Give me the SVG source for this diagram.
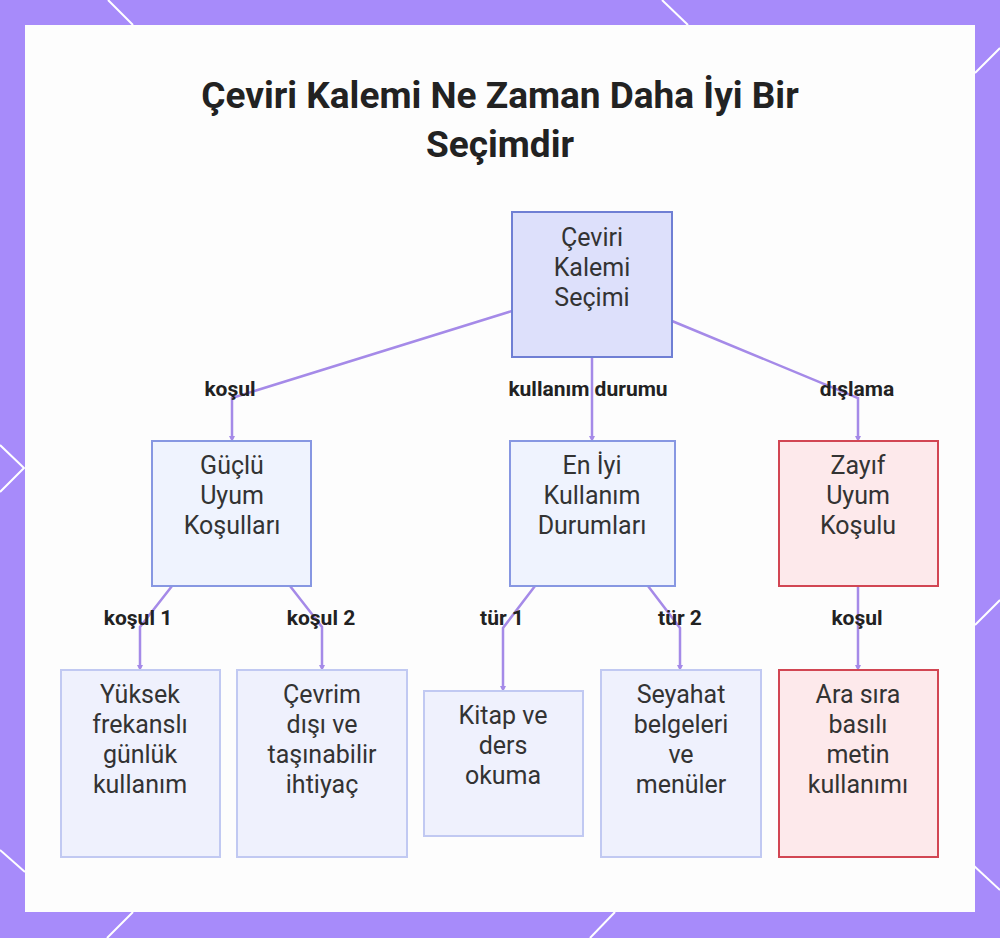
<svg xmlns="http://www.w3.org/2000/svg" width="1000" height="938" viewBox="0 0 1000 938">
<defs>
<style>
.title{font-family:Roboto,"Liberation Sans",sans-serif;font-weight:700;font-size:37px;fill:#222;text-anchor:middle}
.nt{font-family:Roboto,"Liberation Sans",sans-serif;font-size:25px;fill:#333;text-anchor:middle}
.el{font-family:Roboto,"Liberation Sans",sans-serif;font-weight:700;font-size:21px;fill:#222;text-anchor:middle}
.edge{fill:none;stroke:#a58ae8;stroke-width:2.5}
.root{fill:#dde0fb;stroke:#6f7fd4;stroke-width:2}
.mid{fill:#eff3fe;stroke:#8797e2;stroke-width:2}
.leaf{fill:#eff1fd;stroke:#c1c9f2;stroke-width:2}
.red{fill:#fde9eb;stroke:#d24653;stroke-width:2}
.deco{stroke:#fff;stroke-width:2;fill:none}
</style>
<marker id="arr" markerWidth="6" markerHeight="6" refX="3" refY="3" orient="auto" markerUnits="userSpaceOnUse">
<path d="M0,0 L6,3 L0,6 z" fill="#a58ae8"/>
</marker>
</defs>
<rect x="0" y="0" width="1000" height="938" fill="#a78bfa"/>
<g class="deco">
<path d="M108,0 L133,25"/>
<path d="M662,0 L688,25"/>
<path d="M1000,48 L975,73"/>
<path d="M0,445 L24,468 L0,492"/>
<path d="M1000,600 L975,625"/>
<path d="M973,865 L1000,890"/>
<path d="M107,938 L133,912"/>
<path d="M590,938 L615,912"/>
<path d="M0,850 L25,872"/>
</g>
<rect x="25" y="25" width="950" height="887" fill="#fdfdfd"/>
<text class="title" x="500" y="108">Çeviri Kalemi Ne Zaman Daha İyi Bir</text>
<text class="title" x="500" y="157">Seçimdir</text>
<g id="connectors">
<path class="edge" d="M512,311 L232,398 L232,439" marker-end="url(#arr)"/>
<path class="edge" d="M592,357 L592,439" marker-end="url(#arr)"/>
<path class="edge" d="M672,321 L858,398 L858,439" marker-end="url(#arr)"/>
<path class="edge" d="M172,586 L140,627 L140,668" marker-end="url(#arr)"/>
<path class="edge" d="M290,586 L322,627 L322,668" marker-end="url(#arr)"/>
<path class="edge" d="M535,586 L503,628 L503,689" marker-end="url(#arr)"/>
<path class="edge" d="M648,586 L680,628 L680,668" marker-end="url(#arr)"/>
<path class="edge" d="M858,586 L858,668" marker-end="url(#arr)"/>
<text class="el" x="230" y="396">koşul</text>
<text class="el" x="588" y="396">kullanım durumu</text>
<text class="el" x="857" y="396">dışlama</text>
<text class="el" x="138" y="625">koşul 1</text>
<text class="el" x="321" y="625">koşul 2</text>
<text class="el" x="502" y="625">tür 1</text>
<text class="el" x="680" y="625">tür 2</text>
<text class="el" x="857" y="625">koşul</text>
</g>
<g id="root">
<rect class="root" x="512" y="212" width="160" height="145"/>
<text class="nt" x="592" y="246">Çeviri</text>
<text class="nt" x="592" y="276">Kalemi</text>
<text class="nt" x="592" y="306">Seçimi</text>
</g>
<g id="guclu">
<rect class="mid" x="152" y="441" width="159" height="145"/>
<text class="nt" x="232" y="474">Güçlü</text>
<text class="nt" x="232" y="504">Uyum</text>
<text class="nt" x="232" y="534">Koşulları</text>
</g>
<g id="eniyi">
<rect class="mid" x="510" y="441" width="165" height="145"/>
<text class="nt" x="592" y="474">En İyi</text>
<text class="nt" x="592" y="504">Kullanım</text>
<text class="nt" x="592" y="534">Durumları</text>
</g>
<g id="zayif">
<rect class="red" x="779" y="441" width="159" height="145"/>
<text class="nt" x="858" y="474">Zayıf</text>
<text class="nt" x="858" y="504">Uyum</text>
<text class="nt" x="858" y="534">Koşulu</text>
</g>
<g id="yuksek">
<rect class="leaf" x="61" y="670" width="159" height="187"/>
<text class="nt" x="140" y="703">Yüksek</text>
<text class="nt" x="140" y="733">frekanslı</text>
<text class="nt" x="140" y="763">günlük</text>
<text class="nt" x="140" y="793">kullanım</text>
</g>
<g id="cevrim">
<rect class="leaf" x="237" y="670" width="170" height="187"/>
<text class="nt" x="322" y="703">Çevrim</text>
<text class="nt" x="322" y="733">dışı ve</text>
<text class="nt" x="322" y="763">taşınabilir</text>
<text class="nt" x="322" y="793">ihtiyaç</text>
</g>
<g id="kitap">
<rect class="leaf" x="424" y="691" width="159" height="145"/>
<text class="nt" x="503" y="724">Kitap ve</text>
<text class="nt" x="503" y="754">ders</text>
<text class="nt" x="503" y="784">okuma</text>
</g>
<g id="seyahat">
<rect class="leaf" x="601" y="670" width="160" height="187"/>
<text class="nt" x="681" y="703">Seyahat</text>
<text class="nt" x="681" y="733">belgeleri</text>
<text class="nt" x="681" y="763">ve</text>
<text class="nt" x="681" y="793">menüler</text>
</g>
<g id="arasira">
<rect class="red" x="779" y="670" width="159" height="187"/>
<text class="nt" x="858" y="703">Ara sıra</text>
<text class="nt" x="858" y="733">basılı</text>
<text class="nt" x="858" y="763">metin</text>
<text class="nt" x="858" y="793">kullanımı</text>
</g>
</svg>
